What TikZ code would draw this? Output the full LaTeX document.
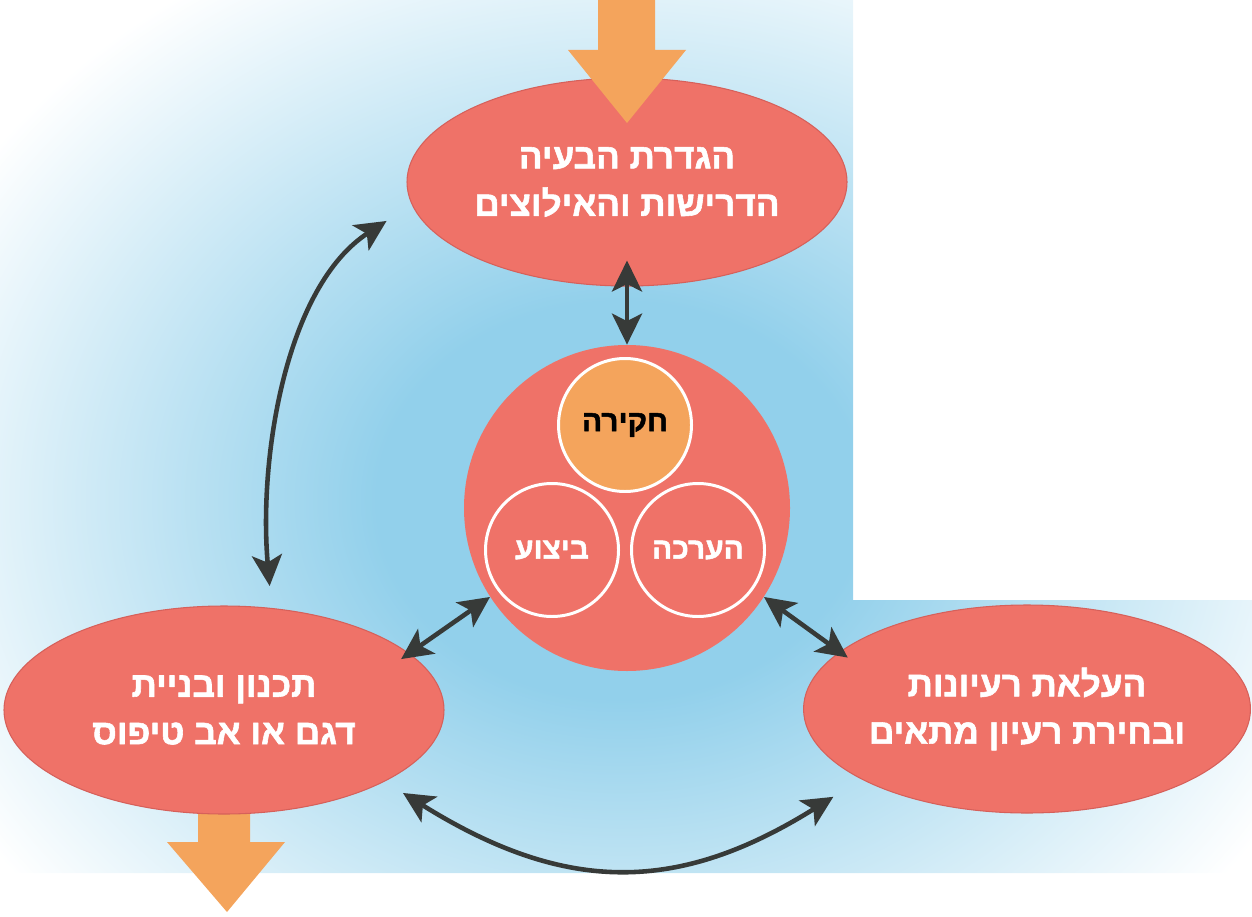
\documentclass[tikz,border=0pt]{standalone}
\usepackage{fontspec}
\setmainfont{Liberation Sans}
\newfontfamily\hebfont[Script=Hebrew,BoldFeatures={FakeBold=1.6}]{Liberation Sans}
\TeXXeTstate=1
\usetikzlibrary{arrows.meta,shapes.geometric,positioning}
\definecolor{sky}{RGB}{146,208,235}
\definecolor{salmon}{RGB}{239,114,104}
\definecolor{salmonedge}{RGB}{214,96,90}
\definecolor{peach}{RGB}{244,164,92}
\definecolor{ink}{RGB}{55,58,56}
\pgfdeclareradialshading{skyglow}{\pgfpoint{0bp}{0bp}}{color(0bp)=(sky); color(8bp)=(sky); color(25bp)=(white); color(50bp)=(white)}
\tikzset{stage/.style={
            ellipse,
            draw=salmonedge,
            fill=salmon,
            line width=0.6pt,
            inner sep=0pt,
            minimum width=8.8cm,
            minimum height=4.16cm,
            text=white,
            align=center,
            font=\hebfont\bfseries\fontsize{20}{27}\selectfont
        },
        hub/.style={
            circle,
            fill=salmon,
            inner sep=0pt,
            minimum size=6.52cm
        },
        phase/.style={
            circle,
            draw=white,
            line width=1.7pt,
            fill=salmon,
            inner sep=0pt,
            minimum size=2.66cm,
            text=white,
            font=\hebfont\bfseries\fontsize{17}{20}\selectfont
        },
        keyphase/.style={
            phase,
            fill=peach,
            text=black
        },
        feed/.style={
            fill=peach
        },
        link/.style={
            draw=ink,
            line width=2.6pt,
            {Stealth[length=6.2mm,width=6mm,inset=1.5mm]}-{Stealth[length=6.2mm,width=6mm,inset=1.5mm]}
        }
    }
\begin{document}
\begin{tikzpicture}[line join=round]
\useasboundingbox (0,0) rectangle (25.04,18.32);
\begin{scope}
\clip (0,18.32)--(17.06,18.32)--(17.06,6.32)--(25.04,6.32)--(25.04,0.86)--(0,0.86)--cycle;
\shade[shading=skyglow] (12.4,8.32) ellipse (15.2 and 12.4);
\end{scope}
\fill[feed](3.96,2.3)--(5,2.3)--(5,1.48)--(5.7,1.48)--(4.54,0.08)--(3.34,1.48)--(3.96,1.48)--cycle;
\node[stage] (define) at (12.54,14.68) {\beginR הגדרת הבעיה\endR\\\beginR הדרישות והאילוצים\endR};
\node[stage] (build) at (4.48,4.12) {\beginR תכנון ובניית\endR\\\beginR דגם או אב טיפוס\endR};
\node[stage] (ideas) at (20.54,4.14) {\beginR העלאת רעיונות\endR\\\beginR ובחירת רעיון מתאים\endR};
\node[hub] (core) at (12.54,8.16) {};
\node[keyphase] (inquiry) at (12.5,9.82) {\beginR חקירה\endR};
\node[phase] (doing) at (11.04,7.32) {\beginR ביצוע\endR};
\node[phase] (review) at (13.96,7.32) {\beginR הערכה\endR};
\fill[feed](11.96,18.32)--(13.1,18.32)--(13.1,17.32)--(13.72,17.32)--(12.54,15.86)--(11.36,17.32)--(11.96,17.32)--cycle;
\draw[link,shorten <=-5.2mm] (define.south) -- (core.north);
\draw[link,shorten <=-2mm] (build.17) -- (core.213);
\draw[link,shorten >=-2mm] (core.-33) -- (ideas.163);
\draw[link,shorten <=6mm,shorten >=4.4mm,looseness=0.9] (define.186) to[out=213,in=95] (build.65);
\draw[link,shorten <=4.3mm,shorten >=6.6mm,looseness=1.15] (build.-24) to[out=-32,in=212] (ideas.203);
\end{tikzpicture}
\end{document}
